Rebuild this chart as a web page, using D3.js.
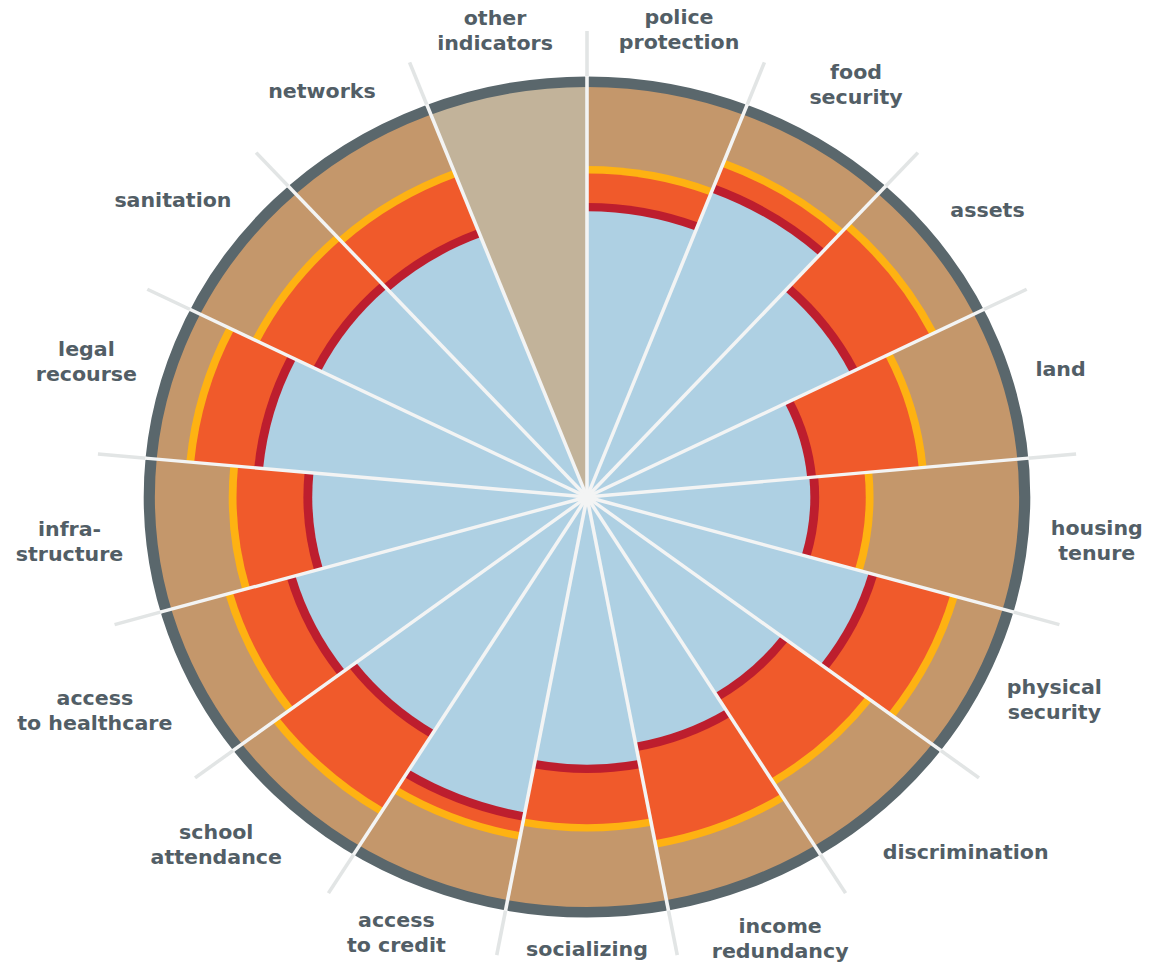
<!doctype html>
<html lang="en">
<head>
<meta charset="UTF-8">
<title>Resilience wheel</title>
<script src="https://d3js.org/d3.v7.min.js"></script>
<style>
  body { margin: 0; background: #fff; }
  svg { display: block; }
  .lbl { font-family: "DejaVu Sans", sans-serif; font-weight: bold; font-size: 19.5px; fill: #525e66; }
</style>
</head>
<body>
<div id="chart"></div>
<script>
// indicator names, clockwise from 12 o'clock
var categories = ["police protection", "food security", "assets", "land", "housing tenure",
    "physical security", "discrimination", "income redundancy", "socializing", "access to credit",
    "school attendance", "access to healthcare", "infra-structure", "legal recourse",
    "sanitation", "networks", "other indicators"];

var labelLines = [["police", "protection"], ["food", "security"], ["assets"], ["land"],
    ["housing", "tenure"], ["physical", "security"], ["discrimination"], ["income", "redundancy"],
    ["socializing"], ["access", "to credit"], ["school", "attendance"], ["access", "to healthcare"],
    ["infra-", "structure"], ["legal", "recourse"], ["sanitation"], ["networks"], ["other", "indicators"]];

// inner level (dark red line) and outer level (yellow line), % of full radius
var innerValues = [70.7, 80.7, 69.0, 52.2, 52.7, 68.8, 57.3, 62.0, 66.3, 79.3, 68.0, 71.2, 64.6, 76.3, 69.8, 69.0, null];
var outerValues = [79.8, 87.3, 89.5, 78.0, 65.4, 88.3, 81.7, 86.1, 80.7, 84.1, 90.2, 86.1, 82.0, 92.2, 85.6, 84.6, null];

var width = 1153, height = 973;
var cx = 587, cy = 497, sx = 1.054;
var R = 410;

var svg = d3.select("#chart").append("svg")
    .attr("width", width)
    .attr("height", height);

var g = svg.append("g")
    .attr("transform", "translate(" + cx + "," + cy + ") scale(" + sx + ",1)");

var r = d3.scaleLinear().domain([0, 100]).range([0, R]);
var step = 2 * Math.PI / categories.length;

var arc = d3.arc();
function wedge(i, r0, r1) {
    return arc({innerRadius: r0, outerRadius: r1, startAngle: i * step, endAngle: (i + 1) * step});
}

var data = categories.map(function(c, i) {
    return {name: c, i: i, inner: innerValues[i], outer: outerValues[i], lines: labelLines[i]};
});

var sectors = g.selectAll("g.sector").data(data).enter().append("g").attr("class", "sector");

sectors.each(function(d) {
    var s = d3.select(this);
    if (d.inner == null) {
        s.append("path").attr("d", wedge(d.i, 0, R + 1)).attr("fill", "#c2b39a");
        return;
    }
    s.append("path").attr("d", wedge(d.i, 0, R + 1)).attr("fill", "#c4976b");
    s.append("path").attr("d", wedge(d.i, 0, r(d.outer) + 3.7)).attr("fill", "#feb212");
    s.append("path").attr("d", wedge(d.i, 0, r(d.outer) - 3.7)).attr("fill", "#f05a2b");
    s.append("path").attr("d", wedge(d.i, 0, r(d.inner) + 4.2)).attr("fill", "#bd1e2e");
    s.append("path").attr("d", wedge(d.i, 0, r(d.inner) - 4.2)).attr("fill", "#aed0e3");
});

// outer dark ring
g.append("circle")
    .attr("r", R + 5.3)
    .attr("fill", "none")
    .attr("stroke", "#5a676c")
    .attr("stroke-width", 10.6);

// separators
var spokes = d3.range(categories.length).map(function(i) { return i * step; });
g.selectAll("line.out").data(spokes).enter().append("line")
    .attr("x1", function(a) { return Math.sin(a) * (R + 10); })
    .attr("y1", function(a) { return -Math.cos(a) * (R + 10); })
    .attr("x2", function(a) { return Math.sin(a) * 466; })
    .attr("y2", function(a) { return -Math.cos(a) * 466; })
    .attr("stroke", "#e2e5e5")
    .attr("stroke-width", 3.4);
g.selectAll("line.in").data(spokes).enter().append("line")
    .attr("x1", 0).attr("y1", 0)
    .attr("x2", function(a) { return Math.sin(a) * (R + 11); })
    .attr("y2", function(a) { return -Math.cos(a) * (R + 11); })
    .attr("stroke", "#f3f4f4")
    .attr("stroke-width", 3.4);
g.append("circle").attr("r", 6).attr("fill", "#f3f4f4");

// labels: centred near each sector's bisector, pushed out by half their box
var labelR = 441;
var labels = g.selectAll("text.lbl").data(data).enter().append("text")
    .attr("class", "lbl")
    .attr("text-anchor", "middle");

labels.each(function(d) {
    var t = d3.select(this);
    d.lines.forEach(function(line, k) {
        t.append("tspan").attr("x", 0).attr("dy", k == 0 ? 0 : 25).text(line);
    });
    var bb = this.getBBox();
    var a = (d.i + 0.5) * step;
    var h = bb.height;
    if (Math.cos(a) < 0) {
        // lower half: labels sit a little higher, towards the sides
        var s2 = Math.sin(2 * a);
        a -= Math.sign(Math.sin(a)) * (3 * Math.PI / 180) * s2 * s2;
        if (d.lines.length > 1) h = bb.height * 0.55;
    }
    var dist = labelR + Math.abs(Math.sin(a)) * bb.width / 2 + Math.abs(Math.cos(a)) * h / 2;
    var px = Math.sin(a) * dist;
    var py = -Math.cos(a) * dist;
    var dx = px - (bb.x + bb.width / 2);
    var dy = py - (bb.y + bb.height / 2);
    t.attr("transform", "translate(" + dx + "," + dy + ")");
});
</script>
</body>
</html>
